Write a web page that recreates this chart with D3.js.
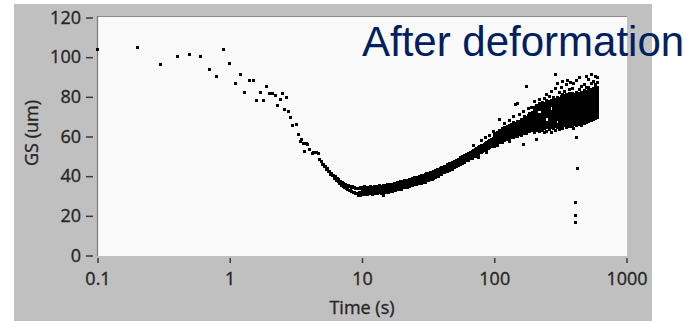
<!DOCTYPE html>
<html>
<head>
<meta charset="utf-8">
<script src="https://cdn.jsdelivr.net/npm/d3@7"></script>
<style>
  html, body { margin: 0; padding: 0; background: #ffffff; }
  svg { display: block; }
</style>
</head>
<body>
<svg id="chart" width="694" height="321"></svg>
<script>
// ---- Grain size (GS, um) versus time (s) after deformation ----

// Sparse early readings
const earlyTime = [0.1, 0.2, 0.3, 0.4, 0.5, 0.6, 0.7, 0.8, 0.9, 1.0, 1.1, 1.2, 1.3, 1.4, 1.5,
  1.6, 1.7, 1.8, 1.9, 2.0, 2.1, 2.2, 2.3, 2.4, 2.5, 2.6, 2.7, 2.8, 2.9, 3.0, 3.2, 3.3, 3.4,
  3.5, 3.6, 3.7, 3.8, 3.9, 4.0, 4.2, 4.3, 4.5, 4.7];
const earlyGS = [104.0, 104.8, 96.1, 100.5, 101.3, 100.5, 93.6, 90.1, 103.8, 97.0, 86.7, 91.1,
  82.4, 88.4, 88.4, 78.1, 82.4, 78.1, 85.0, 81.7, 81.7, 80.5, 75.5, 78.5, 81.5, 73.8, 79.8,
  72.6, 69.8, 65.4, 66.2, 60.9, 57.5, 58.4, 56.7, 52.5, 56.4, 55.8, 53.3, 51.3, 52.0, 51.7, 51.3];

// Steep descent towards the minimum
const rampTime = [4.8, 4.9, 5.0, 5.1, 5.2, 5.3, 5.4, 5.5, 5.6, 5.7, 5.8, 5.9, 6.0, 6.1, 6.2,
  6.3, 6.4, 6.5, 6.6, 6.7, 6.8, 6.9, 7.0, 7.1, 7.2, 7.3, 7.4, 7.5, 7.6, 7.7, 7.8, 7.9, 8.0,
  8.1, 8.2, 8.3, 8.4, 8.5, 8.6, 8.7, 8.8, 8.9, 9.0, 9.1, 9.2, 9.3, 9.4, 9.5, 9.6, 9.7, 9.8, 9.9];
const rampGS = [48.3, 47.4, 46.1, 45.9, 44.8, 44.9, 43.6, 43.9, 42.3, 42.4, 41.0, 41.5, 40.1,
  40.4, 39.0, 39.6, 37.9, 38.8, 37.2, 38.1, 36.3, 37.4, 35.5, 36.8, 34.9, 36.1, 34.3, 35.8,
  33.9, 35.4, 33.5, 35.2, 32.9, 34.8, 32.6, 34.5, 32.3, 34.6, 31.9, 34.2, 31.6, 33.9, 31.2,
  34.0, 31.5, 33.7, 30.4, 33.8, 31.7, 30.2, 34.1, 32.0];

// Dense growth band: several readings per time step
const bandTime = [
  10, 10.5, 11, 11.5, 12, 12.5, 13, 13.5, 14, 14.5, 15, 15.5, 16, 16.5, 17, 17.5, 18, 18.5, 19, 19.5,
  20, 21, 22, 23, 24, 25, 26, 27, 28, 29, 30, 31, 32, 33, 34, 35, 36, 37, 38, 39,
  40, 42, 44, 46, 48, 50, 52, 54, 56, 58, 60, 62, 64, 66, 68, 70, 72, 74, 76, 78,
  80, 82, 84, 86, 88, 90, 92, 94, 96, 98,
  100, 105, 110, 115, 120, 125, 130, 135, 140, 145, 150, 155, 160, 165, 170, 175, 180, 185, 190, 195,
  200, 210, 220, 230, 240, 250, 260, 270, 280, 290, 300, 310, 320, 330, 340, 350, 360, 370, 380, 390,
  400, 420, 440, 460, 480, 500, 520, 540, 560, 580, 600
];
const bandGS = [
  [30.6, 31.9, 33.1, 34.3], [31.0, 32.2, 33.4, 34.7], [30.8, 31.9, 33.2, 34.2], [31.1, 32.4, 33.3, 34.8],
  [30.9, 32.1, 33.4, 34.5], [31.4, 32.5, 33.6, 35.0], [31.2, 32.3, 33.5, 34.7], [31.6, 32.8, 34.0, 35.1],
  [31.4, 32.6, 33.8, 35.0], [30.5, 31.9, 33.1, 34.4, 35.5], [31.7, 32.9, 34.1, 35.3], [31.9, 33.2, 34.5, 35.7],
  [32.0, 33.2, 34.4, 35.6], [32.4, 33.6, 34.7, 36.0], [32.3, 33.5, 34.8, 35.9], [32.8, 34.0, 35.1, 36.4],
  [32.7, 33.9, 35.2, 36.3], [33.2, 34.4, 35.5, 36.8], [33.1, 34.3, 35.6, 36.7], [33.6, 34.8, 35.9, 37.2],
  [33.5, 34.7, 35.9, 37.1], [34.2, 35.3, 36.6, 37.7], [34.3, 35.6, 36.8, 38.0], [35.0, 36.1, 37.3, 38.5],
  [35.1, 36.3, 37.6, 38.7], [35.7, 36.8, 38.0, 39.2], [35.8, 37.1, 38.3, 39.4], [36.4, 37.5, 38.7, 39.9],
  [36.4, 37.7, 38.9, 40.1], [37.0, 38.1, 39.3, 40.5], [37.0, 38.3, 39.5, 40.7], [37.6, 38.7, 39.9, 41.1],
  [37.6, 38.9, 40.1, 41.3], [38.2, 39.3, 40.5, 41.7], [38.3, 39.6, 40.8, 42.0], [39.0, 40.1, 41.3, 42.5],
  [39.1, 40.4, 41.6, 42.8], [39.8, 40.9, 42.1, 43.3], [39.9, 41.2, 42.4, 43.6], [40.6, 41.7, 42.9, 44.1],
  [40.9, 42.1, 43.2, 44.3], [41.8, 42.8, 44.0, 45.0], [42.3, 43.5, 44.6, 45.7], [43.1, 44.1, 45.3, 46.3],
  [43.5, 44.7, 45.8, 46.9], [44.3, 45.3, 46.5, 47.5], [44.7, 45.9, 47.0, 48.1], [45.4, 46.4, 47.6, 48.6],
  [45.8, 47.0, 48.1, 49.2], [46.5, 47.5, 48.7, 49.7], [46.9, 48.1, 49.2, 50.3], [47.7, 48.7, 49.9, 50.9],
  [48.0, 49.2, 50.3, 51.4], [48.8, 49.8, 51.0, 52.0], [49.1, 50.3, 51.4, 52.5], [49.8, 50.8, 52.0, 53.0, 55.4],
  [50.1, 51.3, 52.4, 53.5], [50.8, 51.8, 53.0, 54.0], [49.6, 51.1, 52.3, 53.4, 54.5], [51.7, 52.7, 53.9, 54.9],
  [51.9, 53.1, 54.2, 55.3, 57.8], [52.5, 53.5, 54.7, 55.7], [52.8, 54.0, 55.1, 56.2], [53.4, 54.4, 55.6, 56.6, 59.3],
  [51.8, 53.6, 54.8, 55.9, 57.0], [54.2, 55.2, 56.4, 57.4], [54.4, 55.6, 56.7, 57.8, 60.6], [55.0, 56.0, 57.2, 58.2],
  [55.2, 56.4, 57.5, 58.6], [55.8, 56.8, 58.0, 59.0, 62.5],
  [54.9, 56.2, 57.5, 58.8, 60.1, 61.3], [55.6, 56.9, 58.2, 59.5, 60.8, 62.0],
  [56.8, 58.0, 59.3, 60.6, 61.9, 63.1, 68.4], [57.2, 58.6, 59.9, 61.2, 62.4, 63.8],
  [57.9, 59.1, 60.4, 61.7, 63.0, 64.3, 66.6], [58.4, 59.7, 61.0, 62.3, 63.5, 64.9],
  [57.6, 59.2, 60.5, 61.8, 63.1, 64.4, 65.7, 68.0], [59.6, 60.8, 62.1, 63.4, 64.7, 66.0],
  [59.3, 60.6, 61.9, 63.2, 64.5, 65.8, 67.0, 70.1], [60.2, 61.5, 62.8, 64.1, 65.4, 66.6, 76.0],
  [60.0, 61.3, 62.6, 63.9, 65.2, 66.5, 67.8, 76.8], [61.0, 62.3, 63.6, 64.9, 66.2, 67.4, 70.9],
  [60.6, 62.0, 63.3, 64.6, 65.9, 67.2, 68.5], [55.8, 61.6, 62.9, 64.2, 65.5, 66.8, 68.1, 72.4],
  [62.2, 63.5, 64.8, 66.1, 67.4, 68.7, 69.9], [61.7, 63.0, 64.3, 65.6, 66.9, 68.2, 69.5, 85.2],
  [62.9, 64.2, 65.5, 66.8, 68.1, 69.4, 70.6, 74.0], [62.4, 63.7, 65.0, 66.3, 67.6, 68.9, 70.2, 71.5],
  [63.5, 64.8, 66.1, 67.4, 68.7, 70.0, 71.3, 74.7], [63.1, 64.4, 65.7, 67.0, 68.3, 69.6, 70.9, 72.2],
  [61.9, 63.6, 65.0, 66.4, 67.8, 69.2, 70.6, 72.0, 73.4, 74.8, 77.6],
  [58.4, 62.9, 64.3, 65.7, 67.1, 68.5, 69.9, 71.3, 72.7, 74.1, 75.5],
  [62.6, 64.0, 65.4, 66.8, 68.2, 69.6, 71.0, 73.8, 75.2, 76.6, 78.9],
  [63.2, 64.6, 66.0, 67.4, 68.8, 70.2, 71.6, 73.0, 74.4, 75.8, 77.2],
  [61.8, 63.9, 65.3, 66.7, 68.1, 69.5, 70.9, 72.3, 73.7, 75.1, 76.5, 79.3],
  [62.6, 64.3, 65.7, 67.1, 69.9, 71.3, 72.7, 74.1, 75.5, 76.9, 78.3, 81.4],
  [63.6, 65.0, 66.4, 67.8, 69.2, 70.6, 72.0, 73.4, 74.8, 76.2, 77.6, 80.1],
  [62.2, 64.4, 65.8, 67.2, 68.6, 70.0, 71.4, 72.8, 75.6, 77.0, 78.4, 82.6],
  [64.1, 65.5, 66.9, 68.3, 69.7, 71.1, 72.5, 73.9, 75.3, 76.7, 78.1, 79.5],
  [63.1, 64.8, 66.2, 67.6, 69.0, 70.4, 71.8, 73.2, 74.6, 76.0, 77.4, 78.8, 84.0, 91.1],
  [64.5, 65.9, 68.7, 70.1, 71.5, 72.9, 74.3, 75.7, 77.1, 78.5, 79.9, 86.8],
  [63.6, 65.2, 66.6, 68.0, 69.4, 70.8, 72.2, 73.6, 75.0, 76.4, 77.8, 79.2, 82.1],
  [64.9, 66.3, 67.7, 69.1, 70.5, 71.9, 73.3, 74.7, 76.1, 78.9, 80.3, 84.9],
  [64.2, 65.6, 67.0, 68.4, 69.8, 71.2, 72.6, 74.0, 75.4, 76.8, 78.2, 79.6, 81.0, 87.7],
  [65.3, 66.7, 68.1, 69.5, 70.9, 72.3, 73.7, 75.1, 76.5, 77.9, 79.3, 80.7, 82.9],
  [64.5, 66.0, 67.4, 68.8, 70.2, 71.6, 74.4, 75.8, 77.2, 78.6, 80.0, 81.4, 86.2],
  [65.6, 67.0, 68.4, 69.8, 71.2, 72.6, 74.0, 75.4, 76.8, 78.2, 79.6, 81.0, 88.1],
  [64.9, 66.3, 67.7, 69.1, 70.5, 71.9, 73.3, 74.7, 76.1, 77.5, 78.9, 80.3, 81.7, 83.7],
  [65.8, 67.2, 68.6, 70.0, 71.4, 72.8, 74.2, 75.6, 77.0, 79.8, 81.2, 87.3],
  [65.1, 66.5, 67.9, 69.3, 70.7, 72.1, 73.5, 74.9, 76.3, 77.7, 79.1, 80.5, 81.9, 84.4],
  [64.0, 66.0, 67.4, 68.8, 70.2, 71.6, 73.0, 74.4, 75.8, 77.2, 78.6, 80.0, 81.4, 86.5],
  [59.4, 65.4, 66.8, 68.2, 69.6, 71.0, 72.4, 73.8, 75.2, 76.6, 78.0, 79.4, 80.8, 82.2, 88.0],
  [66.1, 67.5, 68.9, 70.3, 71.7, 73.1, 74.5, 75.9, 77.3, 78.7, 80.1, 81.5, 83.6, 89.6],
  [65.6, 67.0, 68.4, 69.8, 71.2, 72.6, 74.0, 75.4, 76.8, 78.2, 79.6, 81.0, 82.4, 85.3],
  [66.6, 68.0, 69.4, 70.8, 72.2, 73.6, 75.0, 76.4, 77.8, 79.2, 80.6, 82.0, 83.4, 86.2],
  [67.2, 68.6, 70.0, 71.4, 72.8, 74.2, 75.6, 77.0, 78.4, 79.8, 81.2, 82.6, 84.8, 90.3],
  [67.7, 69.1, 70.5, 71.9, 73.3, 74.7, 76.1, 77.5, 78.9, 80.3, 81.7, 83.1, 84.5, 88.8],
  [68.2, 69.6, 71.0, 72.4, 73.8, 75.2, 76.6, 78.0, 79.4, 80.8, 82.2, 83.6, 86.6, 91.1],
  [68.7, 70.1, 71.5, 72.9, 74.3, 75.7, 77.1, 78.5, 79.9, 81.3, 82.7, 84.1, 87.9],
  [69.2, 70.6, 72.0, 73.4, 74.8, 76.2, 77.6, 79.0, 80.4, 81.8, 83.2, 84.6, 86.3, 90.1],
  [69.5, 70.9, 72.3, 73.7, 75.1, 76.5, 77.9, 79.3, 80.7, 82.1, 83.5, 84.9, 87.4, 89.6]
];

// Isolated low readings near 400 s
const dropTime = [423, 415, 415, 415];
const dropGS = [44.1, 26.8, 20.1, 16.5];

// Axis ticks and titles
const yTickValues = [0, 20, 40, 60, 80, 100, 120];
const xTickValues = [0.1, 1, 10, 100, 1000];
const xTickLabels = ["0.1", "1", "10", "100", "1000"];
const xTitle = "Time (s)";
const yTitle = "GS (um)";
const caption = "After deformation";

// ---- layout ----
const W = 694, H = 321;
const panel = { left: 14, top: 4, right: 652 };
const plot = { left: 97, top: 17, right: 627, bottom: 256 };
const labelFont = "'Open Sans', 'Noto Sans', sans-serif";
const labelColor = "#262626";

const svg = d3.select("#chart");

// grey frame and white plotting area
svg.append("rect")
  .attr("x", panel.left).attr("y", panel.top)
  .attr("width", panel.right - panel.left).attr("height", H - panel.top)
  .attr("fill", "#c0c0c0");
svg.append("rect")
  .attr("x", plot.left).attr("y", plot.top)
  .attr("width", plot.right - plot.left).attr("height", plot.bottom - plot.top)
  .attr("fill", "#fafafa");
svg.append("line")
  .attr("x1", plot.left).attr("x2", plot.right)
  .attr("y1", plot.top - 0.5).attr("y2", plot.top - 0.5)
  .attr("stroke", "#8c8c8c").attr("stroke-width", 1);
svg.append("line")
  .attr("x1", plot.left + 0.5).attr("x2", plot.left + 0.5)
  .attr("y1", plot.top - 1).attr("y2", plot.bottom)
  .attr("stroke", "#7a7a7a").attr("stroke-width", 1.2);

// scales
const x = d3.scaleLog().domain([0.1, 1000]).range([plot.left + 0.5, plot.right - 0.5]);
const y = d3.scaleLinear().domain([0, 120]).range([plot.bottom - 0.5, plot.top + 0.5]);

function styleLabels(sel) {
  sel.attr("fill", labelColor)
    .attr("stroke", labelColor).attr("stroke-width", 0.35)
    .style("font-family", labelFont).style("font-size", "18px");
}

// y axis (ticks sit slightly left of the plot edge)
const yAxis = svg.append("g")
  .attr("transform", `translate(${plot.left - 4},0)`)
  .call(d3.axisLeft(y).tickValues(yTickValues).tickSize(7).tickPadding(5).tickFormat(d3.format("d")));
yAxis.select(".domain").remove();
yAxis.selectAll(".tick line").attr("stroke", "#3a3a3a").attr("stroke-width", 1.5);
styleLabels(yAxis.selectAll(".tick text"));

// x axis (ticks below the plot edge)
const xAxis = svg.append("g")
  .attr("transform", `translate(0,${plot.bottom + 2})`)
  .call(d3.axisBottom(x).tickValues(xTickValues).tickSize(5).tickPadding(9)
    .tickFormat((d, i) => xTickLabels[i]));
xAxis.select(".domain").remove();
xAxis.selectAll(".tick line").attr("stroke", "#3a3a3a").attr("stroke-width", 1.5);
styleLabels(xAxis.selectAll(".tick text"));

// axis titles
styleLabels(svg.append("text")
  .attr("x", (plot.left + plot.right) / 2).attr("y", 314)
  .attr("text-anchor", "middle")
  .text(xTitle));
styleLabels(svg.append("text")
  .attr("transform", "translate(38,133) rotate(-90)")
  .attr("text-anchor", "middle")
  .text(yTitle));

// collect readings
const points = [];
earlyTime.forEach((t, i) => points.push([t, earlyGS[i]]));
rampTime.forEach((t, i) => points.push([t, rampGS[i]]));
bandTime.forEach((t, i) => bandGS[i].forEach(v => points.push([t, v])));
dropTime.forEach((t, i) => points.push([t, dropGS[i]]));

// square markers
svg.append("g")
  .selectAll("rect")
  .data(points)
  .join("rect")
  .attr("x", d => Math.round(x(d[0]) - 1.5))
  .attr("y", d => Math.round(y(d[1]) - 1.5))
  .attr("width", 3).attr("height", 3)
  .attr("fill", "#000");

// caption
svg.append("text")
  .attr("x", 362).attr("y", 56)
  .attr("fill", "#002060")
  .style("font-family", "'Liberation Sans', Arial, sans-serif")
  .style("font-size", "42px")
  .text(caption);
</script>
</body>
</html>
